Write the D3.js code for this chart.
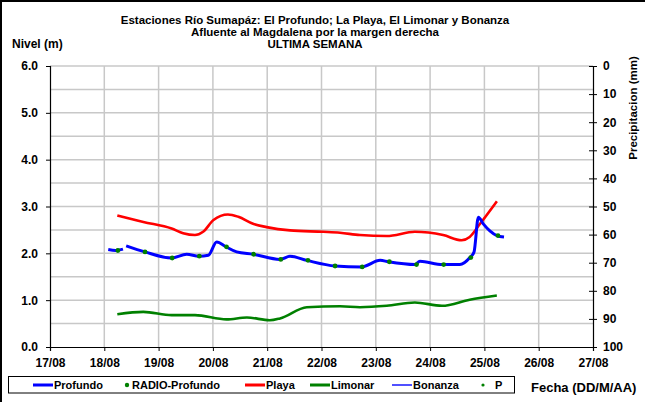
<!DOCTYPE html>
<html><head><meta charset="utf-8">
<script src="https://cdn.jsdelivr.net/npm/d3@7"></script>
<style>
html,body{margin:0;padding:0;background:#fff;}
svg{display:block;font-family:"Liberation Sans",Arial,sans-serif;font-weight:bold;}
</style></head>
<body><svg id="c" width="645" height="402"></svg>
<script>
const titleLines = ["Estaciones Río Sumapáz: El Profundo; La Playa, El Limonar y Bonanza","Afluente al Magdalena por la margen derecha","ULTIMA SEMANA"];
const xTickLabels = ["17/08","18/08","19/08","20/08","21/08","22/08","23/08","24/08","25/08","26/08","27/08"];
const yTicks = [0,1,2,3,4,5,6];
const pTicks = [0,10,20,30,40,50,60,70,80,90,100];

const profundoTime = ["18/08 01:45","18/08 05:00","18/08 08:15","18/08 08:40","18/08 09:40","18/08 18:00","19/08 05:45","19/08 12:25","19/08 17:50","19/08 22:00","20/08 01:40","20/08 05:45","20/08 10:30","20/08 17:50","21/08 05:40","21/08 10:05","21/08 17:30","22/08 06:00","22/08 17:45","23/08 01:55","23/08 05:30","23/08 17:20","23/08 19:30","24/08 05:30","24/08 13:10","24/08 17:35","24/08 19:25","24/08 21:20","24/08 23:30","25/08 02:25","25/08 05:30","25/08 08:40"];
const profundoValue = [2.08,2.06,2.09,null,2.16,2.03,1.90,1.98,1.94,1.96,2.24,2.14,2.03,1.98,1.87,1.94,1.85,1.73,1.71,1.85,1.82,1.76,1.83,1.76,1.76,1.91,2.03,2.77,2.63,2.48,2.38,2.35];

const radioTime = ["18/08 06:00","18/08 18:00","19/08 06:00","19/08 18:00","20/08 06:00","20/08 18:00","21/08 06:00","21/08 18:00","22/08 06:00","22/08 18:00","23/08 06:00","23/08 18:00","24/08 06:00","24/08 18:00","25/08 06:00"];
const radioValue = [2.06,2.03,1.90,1.94,2.14,1.98,1.87,1.85,1.73,1.71,1.82,1.76,1.76,1.91,2.38];

const playaTime = ["18/08 05:45","18/08 17:15","19/08 05:45","19/08 10:50","19/08 16:05","19/08 19:40","20/08 00:15","20/08 06:40","20/08 11:15","20/08 17:45","20/08 23:45","21/08 10:05","22/08 00:45","22/08 08:10","22/08 17:00","23/08 04:50","23/08 17:15","24/08 05:45","24/08 13:55","24/08 17:30","24/08 22:05","25/08 05:30"];
const playaValue = [2.81,2.67,2.53,2.43,2.39,2.46,2.71,2.83,2.78,2.63,2.56,2.49,2.46,2.44,2.39,2.37,2.46,2.39,2.28,2.35,2.63,3.11];

const limonarTime = ["18/08 05:45","18/08 17:15","19/08 05:45","19/08 16:05","20/08 06:00","20/08 15:00","21/08 01:10","21/08 05:40","21/08 17:30","22/08 08:10","22/08 17:00","23/08 04:50","23/08 17:15","24/08 05:15","24/08 17:30","25/08 05:30"];
const limonarValue = [0.70,0.75,0.68,0.68,0.59,0.63,0.57,0.61,0.85,0.87,0.85,0.88,0.95,0.88,1.01,1.10];

const legendLabels = ["Profundo","RADIO-Profundo","Playa","Limonar","Bonanza","P"];
const legendColors = ["#0000ff","#008000","#ff0000","#008000","#5050ff","#008000"];

const parse = d3.timeParse("%d/%m %H:%M");
const svg = d3.select("#c");
const L = 50, R = 593, T = 66, B = 347;

const x = d3.scaleTime().domain([parse("17/08 00:00"), parse("27/08 00:00")]).range([L, R]);
const y = d3.scaleLinear().domain([0, 6]).range([B, T]);
const yp = d3.scaleLinear().domain([0, 100]).range([T, B]);

// outer border (left and top)
svg.append("line").attr("x1",1).attr("x2",1).attr("y1",0).attr("y2",402).attr("stroke","#000").attr("stroke-width",2);
svg.append("line").attr("x1",0).attr("x2",645).attr("y1",1).attr("y2",1).attr("stroke","#000").attr("stroke-width",2);

// gridlines
const g = svg.append("g");
g.selectAll(".hg").data(d3.range(0.5, 6.01, 0.5)).join("line")
  .attr("x1", L).attr("x2", R).attr("y1", d => y(d)).attr("y2", d => y(d))
  .attr("stroke", "#c8c8c8").attr("stroke-width", 1.5);
g.selectAll(".vg").data(d3.range(1, 10)).join("line")
  .attr("x1", d => x(d3.timeDay.offset(parse("17/08 00:00"), d))).attr("x2", d => x(d3.timeDay.offset(parse("17/08 00:00"), d)))
  .attr("y1", T).attr("y2", B)
  .attr("stroke", "#c8c8c8").attr("stroke-width", 1.5);

// axes
const xAxis = d3.axisBottom(x).ticks(d3.timeDay.every(1)).tickSize(4).tickFormat((d,i) => xTickLabels[i]);
const gx = svg.append("g").attr("transform", `translate(0,${B})`).call(xAxis);
gx.select(".domain").attr("stroke","#000");
gx.selectAll("text").attr("font-size", 12).attr("font-weight","bold").attr("fill","#000").attr("font-family","Liberation Sans, Arial").attr("dy","1.05em");

const yAxis = d3.axisLeft(y).tickValues(yTicks).tickSize(4).tickFormat(d3.format(".1f"));
const gy = svg.append("g").attr("transform", `translate(${L},0)`).call(yAxis);
gy.selectAll("text").attr("font-size", 12).attr("font-weight","bold").attr("fill","#000").attr("font-family","Liberation Sans, Arial").attr("x",-12);

const pAxis = d3.axisRight(yp).tickValues(pTicks).tickSize(4);
const gp = svg.append("g").attr("transform", `translate(${R},0)`).call(pAxis);
gp.selectAll(".tick line").attr("x1",-4);
gp.selectAll("text").attr("font-size", 12).attr("font-weight","bold").attr("fill","#000").attr("font-family","Liberation Sans, Arial").attr("x",10);
[gx, gy, gp].forEach(a => { a.selectAll(".domain").attr("stroke-width",1.2); a.selectAll(".tick line").attr("stroke","#000"); });

// lines
const mk = (times, vals) => times.map((t,i) => ({t: parse(t), v: vals[i]}));
const line = d3.line().defined(d => d.v != null).x(d => x(d.t)).y(d => y(d.v)).curve(d3.curveMonotoneX);

const plot = svg.append("g");
plot.append("path").datum(mk(limonarTime, limonarValue)).attr("d", line).attr("fill","none").attr("stroke","#008000").attr("stroke-width",2.6);
plot.append("path").datum(mk(playaTime, playaValue)).attr("d", line).attr("fill","none").attr("stroke","#ff0000").attr("stroke-width",2.6);
plot.append("path").datum(mk(profundoTime, profundoValue)).attr("d", line).attr("fill","none").attr("stroke","#0000ff").attr("stroke-width",3);
plot.selectAll(".rd").data(mk(radioTime, radioValue)).join("circle")
  .attr("cx", d => x(d.t)).attr("cy", d => y(d.v)).attr("r", 2.4).attr("fill","#008000");

// titles
const tt = svg.append("text").attr("text-anchor","middle").attr("font-size",11.5).attr("fill","#000");
titleLines.forEach((s,i) => tt.append("tspan").attr("x", 315).attr("y", 23.5 + i*12.3).text(s));
svg.append("text").attr("x",12).attr("y",48).attr("font-size",12).text("Nivel (m)");
svg.append("text").attr("transform","translate(637,108) rotate(-90)").attr("text-anchor","middle").attr("font-size",11.5).text("Precipitacion (mm)");
svg.append("text").attr("x",531).attr("y",392).attr("font-size",13).text("Fecha (DD/M/AA)");

// legend
svg.append("rect").attr("x",8.5).attr("y",376.5).attr("width",506).attr("height",16.5).attr("fill","#fff").attr("stroke","#000").attr("stroke-width",1);
const legX = [33, 122, 245, 310, 392, 478];
const leg = svg.append("g").attr("font-size",11);
legendLabels.forEach((lab,i) => {
  const lx = legX[i], ly = 385;
  const isDot = (i === 1 || i === 5);
  if (isDot) {
    leg.append("circle").attr("cx", lx+5).attr("cy", ly).attr("r", i===1 ? 2.2 : 1.6).attr("fill", legendColors[i]);
    leg.append("text").attr("x", lx + (i===1 ? 10 : 17)).attr("y", ly+4).text(lab);
  } else {
    leg.append("line").attr("x1", lx).attr("x2", lx+20).attr("y1", ly).attr("y2", ly).attr("stroke", legendColors[i]).attr("stroke-width", i===4 ? 2 : 3);
    leg.append("text").attr("x", lx+21).attr("y", ly+4).text(lab);
  }
});
</script></body></html>
